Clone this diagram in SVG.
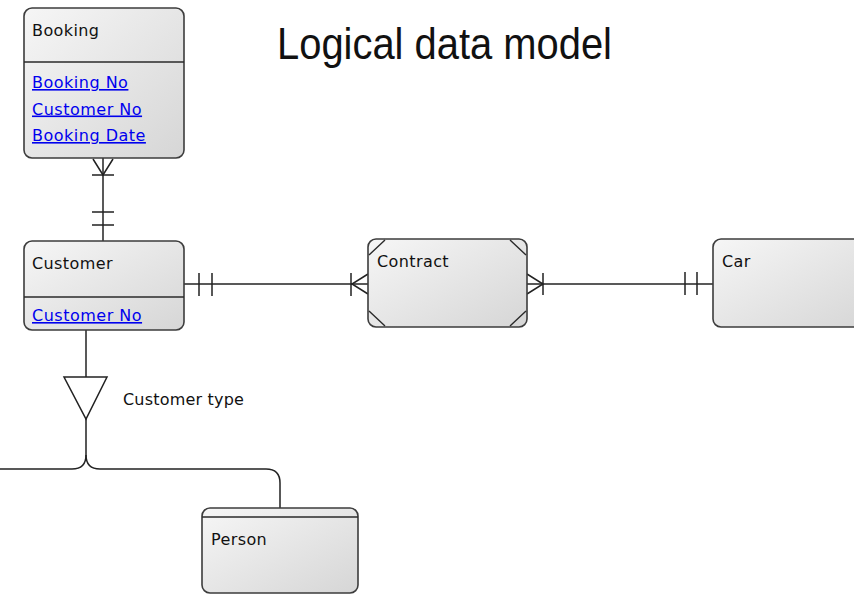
<svg xmlns="http://www.w3.org/2000/svg" width="854" height="595" viewBox="0 0 854 595">
<defs>
<linearGradient id="fill" x1="0" y1="0" x2="1" y2="1">
<stop offset="0" stop-color="#f6f6f6"/>
<stop offset="1" stop-color="#d6d6d6"/>
</linearGradient>
<style>
.ent{fill:url(#fill);stroke:#3c3c3c;stroke-width:1.6}
.sep{stroke:#2a2a2a;stroke-width:1.4;fill:none}
.lbl{font-family:"DejaVu Sans",Verdana,sans-serif;font-size:16px;fill:#111;letter-spacing:0.4px}
.key{font-family:"DejaVu Sans",Verdana,sans-serif;font-size:16px;fill:#0000ee;text-decoration:underline;letter-spacing:0.5px}
.con{stroke:#222;stroke-width:1.5;fill:none}
.title{font-family:"Liberation Sans",Arial,sans-serif;font-size:45px;fill:#111}
</style>
</defs>
<rect width="854" height="595" fill="#fff"/>
<text class="title" x="277" y="59" textLength="335" lengthAdjust="spacingAndGlyphs">Logical data model</text>

<g id="connectors">
<!-- Booking - Customer -->
<path class="con" d="M103,158 V241"/>
<path class="con" d="M93,159 L103,175 L113,159"/>
<path class="con" d="M92,175 H114 M92,212 H114 M92,225 H114"/>
<!-- Customer - Contract -->
<path class="con" d="M184,284 H368"/>
<path class="con" d="M199,273 V296 M212,273 V296"/>
<path class="con" d="M351,273 V296 M368,274 L352,284 L368,294"/>
<!-- Contract - Car -->
<path class="con" d="M527,284 H713"/>
<path class="con" d="M543,273 V295 M527,274 L543,284 L527,294"/>
<path class="con" d="M685,272 V295 M697,272 V295"/>
<!-- subtype -->
<path class="con" d="M86,330 V377"/>
<path class="con" d="M64,377 H107 L86,419 Z"/>
<path class="con" d="M86,419 V455 Q86,469 72,469 H0"/>
<path class="con" d="M86,455 Q86,469 100,469 H266 Q280,469 280,483 V508"/>
<text class="lbl" x="123" y="405" style="letter-spacing:0.2px">Customer type</text>
</g>

<g id="booking">
<rect class="ent" x="24" y="8" width="160" height="150" rx="8"/>
<path class="sep" d="M24,62 H184"/>
<text class="lbl" x="32" y="36">Booking</text>
<text class="key" x="32" y="88">Booking No</text>
<text class="key" x="32" y="114.5">Customer No</text>
<text class="key" x="32" y="141">Booking Date</text>
</g>

<g id="customer">
<rect class="ent" x="24" y="241" width="160" height="89" rx="8"/>
<path class="sep" d="M24,297 H184"/>
<text class="lbl" x="32" y="269">Customer</text>
<text class="key" x="32" y="321">Customer No</text>
</g>

<g id="contract">
<rect class="ent" x="368" y="239" width="159" height="88" rx="8"/>
<path class="sep" d="M369,255 L385,240 M510,240 L526,255 M369,311 L385,326 M510,326 L526,311"/>
<text class="lbl" x="377" y="267">Contract</text>
</g>

<g id="car">
<rect class="ent" x="713" y="239" width="160" height="88" rx="8"/>
<text class="lbl" x="722" y="267">Car</text>
</g>

<g id="person">
<rect class="ent" x="202" y="508" width="156" height="85" rx="8"/>
<path class="sep" d="M202,517 H358"/>
<text class="lbl" x="211" y="545">Person</text>
</g>
</svg>
